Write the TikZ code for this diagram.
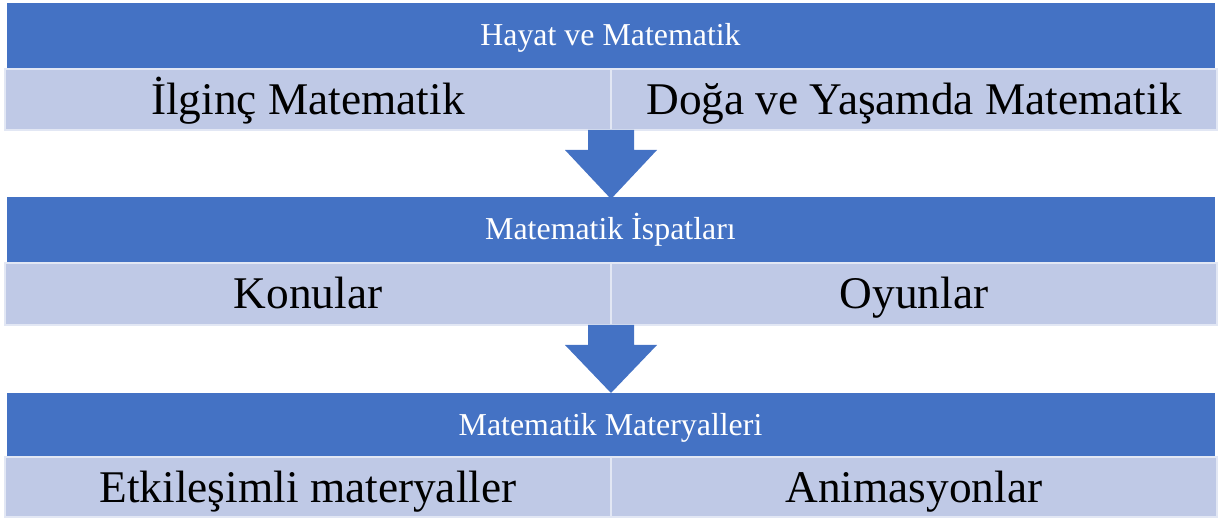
\documentclass[tikz,border=0pt]{standalone}
\usepackage{fontspec}
\setmainfont{Liberation Serif}
\usetikzlibrary{calc}
\definecolor{darkblue}{HTML}{4472C4}
\definecolor{lightblue}{HTML}{BFC9E6}
\begin{document}
\begin{tikzpicture}[x=1bp,y=-1bp,
  band/.style={fill=darkblue, draw=darkblue, minimum width=1207bp, inner sep=0pt,
    text=white, font=\fontsize{32}{36}\selectfont, text height=26bp, text depth=6bp},
  cell/.style={fill=lightblue, draw=white!55!lightblue, line width=1.2bp, minimum width=606bp, inner sep=0pt,
    text=black, font=\fontsize{45.5}{50}\selectfont, text height=38bp, text depth=8bp},
  blockarrow/.style={fill=darkblue}]
\useasboundingbox (0,0) rectangle (1221,518);
% row 1
\node[band, minimum height=66bp] (b1) at (610.5,36) {Hayat ve Matematik};
\node[cell, minimum height=61bp] (c1a) at (308,99.5) {İlginç Matematik};
\node[cell, minimum height=61bp] (c1b) at (914,99.5) {Doğa ve Yaşamda Matematik};
% arrow 1
\fill[blockarrow] (588,130) -- (634,130) -- (634,150) -- (657,150) -- (611,199) -- (565,150) -- (588,150) -- cycle;
% row 2
\node[band, minimum height=66bp] (b2) at (610.5,230) {Matematik İspatları};
\node[cell, minimum height=62bp] (c2a) at (308,294) {Konular};
\node[cell, minimum height=62bp] (c2b) at (914,294) {Oyunlar};
% arrow 2
\fill[blockarrow] (588,325) -- (634,325) -- (634,345) -- (657,345) -- (611,393) -- (565,345) -- (588,345) -- cycle;
% row 3
\node[band, minimum height=64bp] (b3) at (610.5,425) {Matematik Materyalleri};
\node[cell, minimum height=60bp] (c3a) at (308,487) {Etkileşimli materyaller};
\node[cell, minimum height=60bp] (c3b) at (914,487) {Animasyonlar};
\end{tikzpicture}
\end{document}
